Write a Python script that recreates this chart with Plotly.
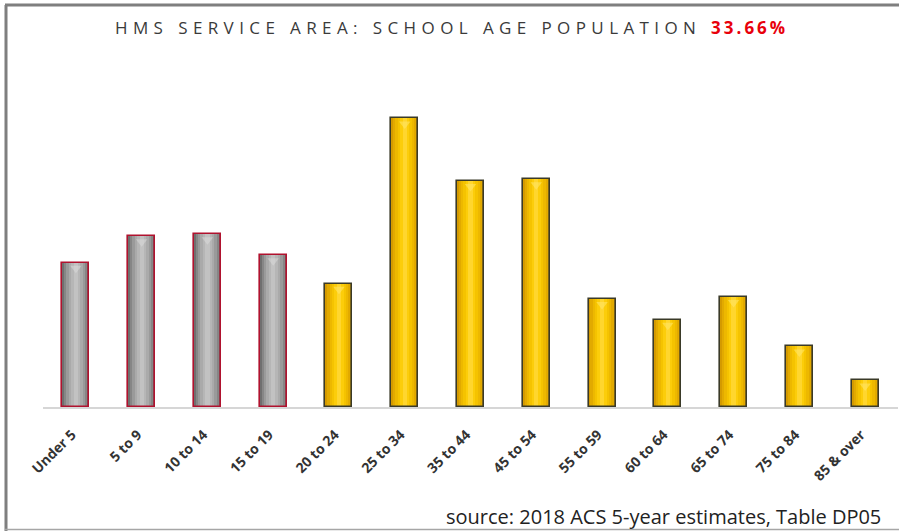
import plotly.graph_objects as go

# Age groups and their share of the service-area population (%)
age_groups = ["Under 5", "5 to 9", "10 to 14", "15 to 19", "20 to 24", "25 to 34",
              "35 to 44", "45 to 54", "55 to 59", "60 to 64", "65 to 74", "75 to 84",
              "85 & over"]
population_share = [7.6, 9.0, 9.1, 8.0, 6.5, 15.2, 11.9, 12.0, 5.7, 4.6, 5.8, 3.2, 1.4]
school_age = [True, True, True, True] + [False] * 9

W, H = 899, 531
PLOT_L, PLOT_R = 43, 898
PLOT_TOP, PLOT_BASE = 60, 407
PX_PER_UNIT = 19.0

BAR_W = 0.41

# cylinder shading layers: (relative width, gold colour, gray colour)
shade_layers = [
    (1.00, "#D49A00", "#6f6f6f"),
    (0.86, "#E2AA00", "#868686"),
    (0.70, "#EDB800", "#9a9a9a"),
    (0.52, "#F5C300", "#aaaaaa"),
    (0.34, "#FCCD0A", "#b6b6b6"),
    (0.16, "#FFD62E", "#c2c2c2"),
]

fig = go.Figure()
for rel, gold, gray in shade_layers:
    colors = [gray if s else gold for s in school_age]
    fig.add_trace(go.Bar(
        x=age_groups, y=population_share, width=BAR_W * rel,
        marker=dict(color=colors, line=dict(width=0)),
        hoverinfo="skip", showlegend=False,
    ))

# soft bevel highlight at the top of each bar
fig.add_trace(go.Scatter(
    x=age_groups, y=[v - 0.3 for v in population_share], mode="markers",
    marker=dict(symbol="triangle-down", size=10,
                color=["rgba(225,225,225,0.45)" if s else "rgba(255,232,110,0.55)" for s in school_age],
                line=dict(width=0)),
    hoverinfo="skip", showlegend=False,
))

# outlines drawn last so they sit on top of the shading
fig.add_trace(go.Bar(
    x=age_groups, y=population_share, width=BAR_W,
    marker=dict(color="rgba(0,0,0,0)",
                line=dict(width=1.6, color=["#B0122E" if s else "#3a3a28" for s in school_age])),
    hoverinfo="skip", showlegend=False,
))

title_txt = ('<span style="letter-spacing:5.4px">HMS SERVICE AREA: SCHOOL AGE POPULATION </span>'
             '<span style="letter-spacing:3px"><b style="color:#E8000B">33.66%</b></span>')

fig.update_layout(
    width=W, height=H,
    margin=dict(l=0, r=0, t=0, b=0, autoexpand=False),
    paper_bgcolor="white", plot_bgcolor="white",
    barmode="overlay", bargap=0,
    xaxis=dict(domain=[PLOT_L / W, PLOT_R / W], range=[-0.5, len(age_groups) - 0.5],
               automargin=False, showgrid=False, zeroline=False,
               showline=True, linecolor="#d6d6d6", linewidth=2,
               ticks="", tickangle=-45, ticklabelstandoff=12, ticklabelshift=-4,
               tickfont=dict(family="Open Sans", size=14, color="#333333", weight="bold"),
               fixedrange=True),
    yaxis=dict(domain=[(H - PLOT_BASE) / H, (H - PLOT_TOP) / H],
               range=[0, (PLOT_BASE - PLOT_TOP) / PX_PER_UNIT],
               automargin=False, visible=False, fixedrange=True),
    shapes=[
        dict(type="line", xref="paper", yref="paper", x0=6 / W, x1=6 / W, y0=0, y1=(H - 5) / H,
             line=dict(color="#7f7f7f", width=3)),
        dict(type="line", xref="paper", yref="paper", x0=5 / W, x1=1, y0=(H - 5) / H, y1=(H - 5) / H,
             line=dict(color="#7f7f7f", width=3)),
        dict(type="line", xref="paper", yref="paper", x0=5 / W, x1=1, y0=1.5 / H, y1=1.5 / H,
             line=dict(color="#a6a6a6", width=1.5)),
    ],
    annotations=[
        dict(text=title_txt, xref="paper", yref="paper", x=452 / W, y=(H - 28) / H,
             xanchor="center", yanchor="middle", showarrow=False,
             font=dict(family="Open Sans", size=17, color="#3a3a3a")),
        dict(text="source: 2018 ACS 5-year estimates, Table DP05", xref="paper", yref="paper",
             x=883 / W, y=(H - 516) / H, xanchor="right", yanchor="middle", showarrow=False,
             font=dict(family="Open Sans", size=20, color="#222222")),
    ],
)

fig.write_html("out.html")
